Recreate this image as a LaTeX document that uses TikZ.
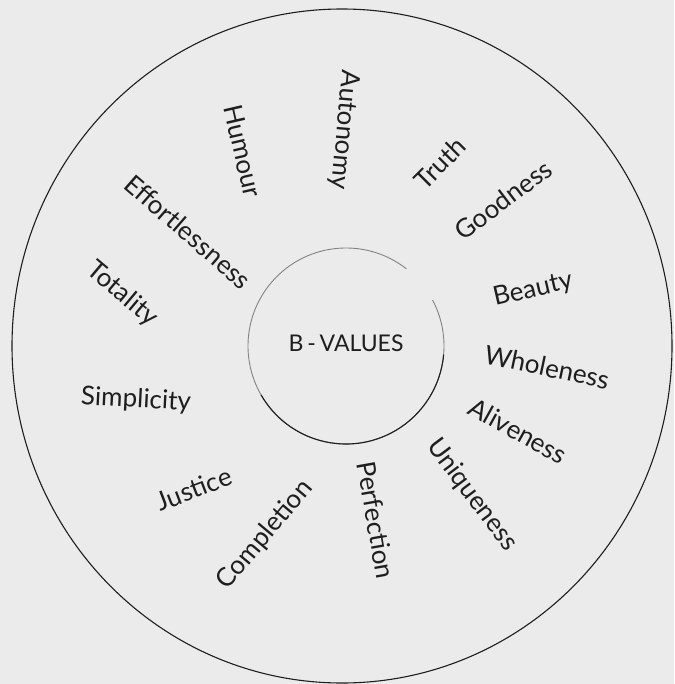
\documentclass[tikz,border=0pt]{standalone}
\usepackage{fontspec}
\setmainfont{Lato}
\definecolor{paper}{HTML}{EBEBEB}
\definecolor{ink}{HTML}{1E1E1E}
\begin{document}
\begin{tikzpicture}[x=1pt,y=-1pt,
  lab/.style={inner sep=0pt, text=ink, font=\fontsize{26}{28}\selectfont},
  ring/.style={draw=ink, line width=1.1pt},
  innerring/.style={draw=ink!55, line width=0.9pt},
  innerdark/.style={draw=ink, line width=1.1pt}]
\fill[paper] (0,0) rectangle (674,684);
\useasboundingbox (0,0) rectangle (674,684);
% outer ring
\draw[ring] (342,346) ellipse [x radius=330pt, y radius=337pt];
% inner ring (hand drawn, with a gap at upper right)
\draw[innerring] (346,346) ++(52:98pt) arc [start angle=52, end angle=388, radius=98pt];
\draw[innerdark] (346,346) ++(210:98pt) arc [start angle=210, end angle=355, radius=98pt];
\node (center) [inner sep=0pt, text=ink, font=\fontsize{23}{25}\selectfont] at (346,343) {B\,-\,VALUES};
% labels
\node (autonomy)  [lab, rotate=-95] at (344,130) {Autonomy};
\node (humour)    [lab, rotate=-77] at (243,151) {Humour};
\node (truth)     [lab, rotate=45]  at (440,163) {Truth};
\node (goodness)  [lab, rotate=37]  at (503,200) {Goodness};
\node (beauty)    [lab, rotate=13]  at (533,290) {Beauty};
\node (wholeness) [lab, rotate=-12] at (547,367) {Wholeness};
\node (aliveness) [lab, rotate=-29] at (518,431) {Aliveness};
\node (uniqueness)[lab, rotate=-53] at (472,495) {Uniqueness};
\node (perfection)[lab, rotate=-80] at (376,520) {Perfection};
\node (completion)[lab, rotate=50]  at (265,535) {Completion};
\node (justice)   [lab, rotate=21]  at (194,489) {Justice};
\node (simplicity)[lab, rotate=-3]  at (136,400) {Simplicity};
\node (totality)  [lab, rotate=-40] at (122,294) {Totality};
\node (effort)    [lab, rotate=-41] at (188,232) {Effortlessness};
\end{tikzpicture}
\end{document}
